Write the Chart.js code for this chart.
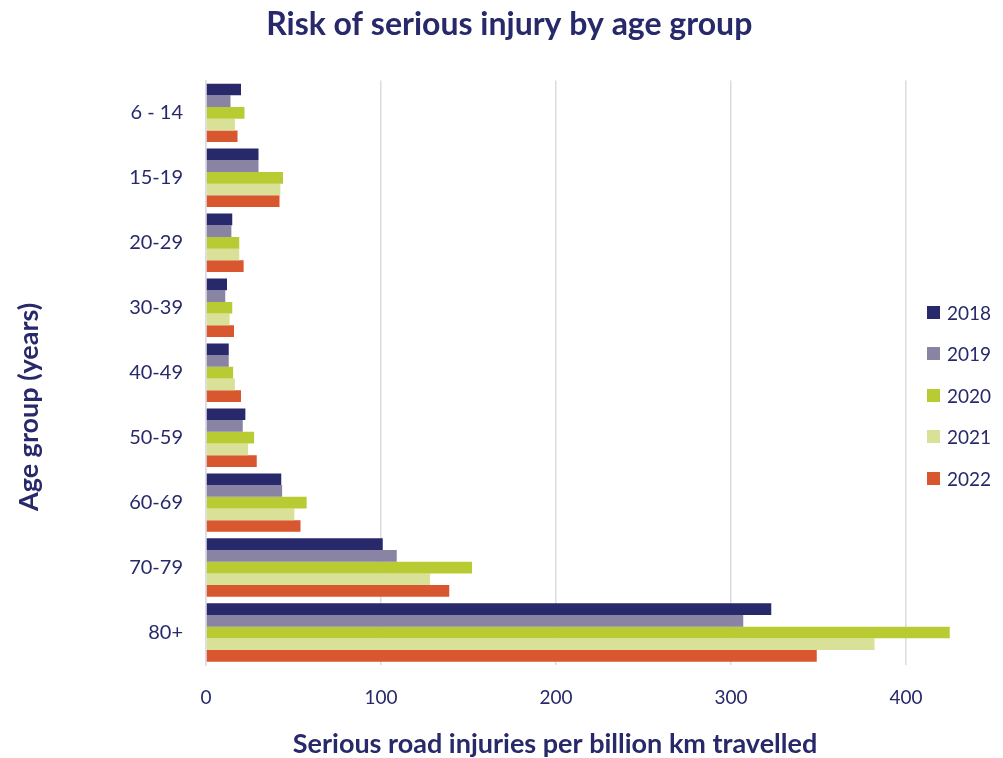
<!DOCTYPE html>
<html><head><meta charset="utf-8">
<script src="https://cdn.jsdelivr.net/npm/chart.js@4"></script>
<style>
html,body{margin:0;padding:0;background:#fff;}
#wrap{position:relative;width:1003px;height:758px;}
#legend{position:absolute;left:927px;top:0;font-family:Lato,sans-serif;font-size:19px;color:#27296a;}
.item{position:absolute;left:0;height:20px;display:flex;align-items:center;white-space:nowrap;}
.box{width:13px;height:13px;margin-right:7px;}
</style></head>
<body><div id="wrap"><canvas id="c" width="1003" height="758"></canvas><div id="legend"></div></div>
<script>
const categories = ['6 - 14','15-19','20-29','30-39','40-49','50-59','60-69','70-79','80+'];
const seriesNames = ['2018','2019','2020','2021','2022'];
const v2018 = [20,30,15,12,13,22.5,43,101,323];
const v2019 = [14,30,14.5,11,13,21,43.5,109,307];
const v2020 = [22,44,19,15,15.5,27.5,57.5,152,425];
const v2021 = [16.5,42.5,19,13.5,16.5,24,50.5,128,382];
const v2022 = [18,42,21.5,16,20,29,54,139,349];
const xTicks = [0,100,200,300,400];
const seriesValues = [v2018,v2019,v2020,v2021,v2022];
const colors = ['#27296a','#8983a4','#b9cb33','#d9e198','#d8572e'];
const navy = '#27296a';
const gridCol = '#dcdbe4';

const axisTitlePlugin = {
  id: 'axisTitles',
  afterDraw(chart) {
    const ctx = chart.ctx;
    ctx.save();
    ctx.font = 'bold 27px Lato, sans-serif';
    ctx.fillStyle = navy;
    ctx.textAlign = 'center';
    ctx.textBaseline = 'middle';
    ctx.fillText('Serious road injuries per billion km travelled', 555, 744);
    ctx.translate(29, 407);
    ctx.rotate(-Math.PI/2);
    ctx.font = 'bold 27px Lato, sans-serif';
    ctx.fillText('Age group (years)', 0, 0);
    ctx.restore();
  }
};

new Chart(document.getElementById('c'), {
  type: 'bar',
  data: {
    labels: categories,
    datasets: seriesNames.map((n,i)=>({
      label: n, data: seriesValues[i], backgroundColor: colors[i],
      borderWidth: 0, barPercentage: 1.0, categoryPercentage: 0.9
    }))
  },
  options: {
    indexAxis: 'y',
    responsive: false,
    animation: false,
    devicePixelRatio: 1,
    layout: { padding: { left: 25, right: 9.5, top: 0, bottom: 0 } },
    plugins: {
      legend: { display: false },
      tooltip: { enabled: false },
      title: {
        display: true, text: 'Risk of serious injury by age group',
        color: navy, font: { family: 'Lato, sans-serif', size: 32, weight: 'bold' },
        padding: { top: 5, bottom: 37 }
      }
    },
    scales: {
      x: {
        type: 'linear', min: 0, max: 450,
        afterBuildTicks: s => { s.ticks = xTicks.map(v => ({ value: v })); },
        afterFit: s => { s.height = 93; },
        grid: { color: gridCol, drawTicks: false, lineWidth: 1.5 },
        border: { display: false },
        ticks: { padding: 21, color: navy, font: { family: 'Lato, sans-serif', size: 19 } }
      },
      y: {
        afterFit: s => { s.width = 181; },
        grid: { display: false, drawTicks: false },
        border: { display: true, color: gridCol, width: 1.5 },
        ticks: { padding: 23, color: navy, font: { family: 'Lato, sans-serif', size: 20 } }
      }
    }
  },
  plugins: [axisTitlePlugin]
});

const legendCenters = [312, 353, 395, 436, 478];
const lg = document.getElementById('legend');
seriesNames.forEach((n,i)=>{
  const it = document.createElement('div');
  it.className = 'item';
  it.style.top = (legendCenters[i]-10) + 'px';
  const b = document.createElement('span');
  b.className = 'box'; b.style.background = colors[i];
  const t = document.createElement('span'); t.textContent = n;
  it.appendChild(b); it.appendChild(t);
  lg.appendChild(it);
});
</script>
</body></html>
